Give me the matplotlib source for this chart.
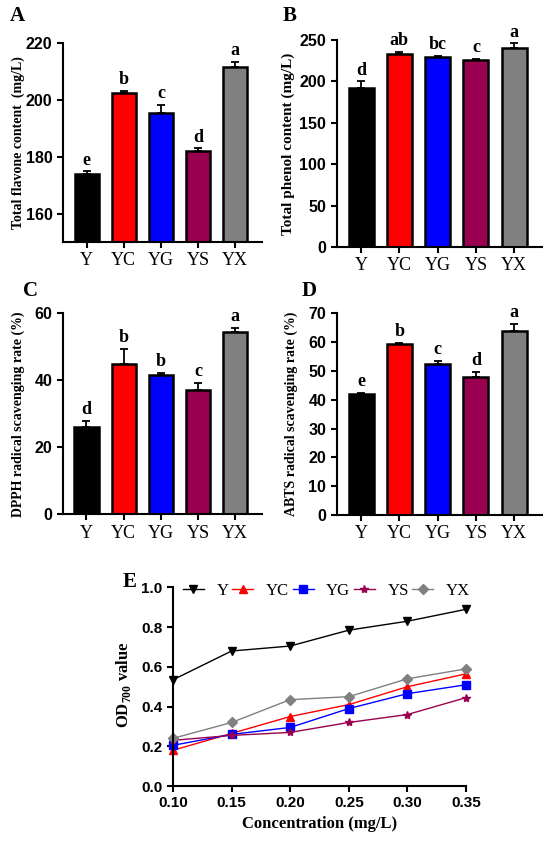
import numpy as np
import matplotlib
matplotlib.use('Agg')
import matplotlib.pyplot as plt

plt.rcParams['mathtext.fontset'] = 'custom'
plt.rcParams['mathtext.rm'] = 'Liberation Serif:bold'
plt.rcParams['mathtext.bf'] = 'Liberation Serif:bold'

groups = ['Y', 'YC', 'YG', 'YS', 'YX']
bar_colors = ['#000000', '#ff0000', '#0000ff', '#990050', '#808080']

# panel A - total flavone
flavone = [173.8, 202.2, 195.3, 181.9, 211.5]
flavone_err = [1.0, 1.0, 2.8, 1.0, 1.8]
flavone_sig = ['e', 'b', 'c', 'd', 'a']

# panel B - total phenol
phenol = [192.0, 233.5, 229.0, 225.5, 240.0]
phenol_err = [8.0, 2.0, 1.5, 2.0, 6.0]
phenol_sig = ['d', 'ab', 'bc', 'c', 'a']

# panel C - DPPH
dpph = [26.0, 45.0, 41.5, 37.0, 54.5]
dpph_err = [2.0, 4.5, 0.7, 2.3, 1.2]
dpph_sig = ['d', 'b', 'b', 'c', 'a']

# panel D - ABTS
abts = [42.0, 59.2, 52.3, 48.0, 64.0]
abts_err = [0.3, 0.6, 1.2, 1.6, 2.3]
abts_sig = ['e', 'b', 'c', 'd', 'a']

# panel E - reducing power
conc = [0.10, 0.15, 0.20, 0.25, 0.30, 0.35]
od_Y = [0.535, 0.68, 0.705, 0.785, 0.83, 0.89]
od_YC = [0.18, 0.265, 0.35, 0.41, 0.50, 0.565]
od_YG = [0.205, 0.26, 0.295, 0.39, 0.465, 0.51]
od_YS = [0.23, 0.255, 0.27, 0.32, 0.36, 0.445]
od_YX = [0.24, 0.32, 0.435, 0.45, 0.54, 0.59]

serif = 'Liberation Serif'
sans = 'Liberation Sans'

fig = plt.figure(figsize=(5.5, 8.47), dpi=100)


def style_axes(ax):
    for s in ['top', 'right']:
        ax.spines[s].set_visible(False)
    for s in ['left', 'bottom']:
        ax.spines[s].set_linewidth(1.5)
    ax.tick_params(width=1.5, length=4, direction='out')


def bar_panel(rect, vals, errs, sig, ylim, yticks, ylabel, lab_size, lab_xy, letter, lpos):
    ax = fig.add_axes(rect)
    x = np.arange(len(groups))
    ax.bar(x, vals, width=0.65, color=bar_colors, edgecolor='black', linewidth=1.8, zorder=2)
    ax.errorbar(x, vals, yerr=[[0] * len(errs), errs], fmt='none', ecolor='black',
                elinewidth=1.3, capsize=3, capthick=1.3, zorder=1)
    for xi, v, e, s in zip(x, vals, errs, sig):
        ax.annotate(s, (xi, v + e), xytext=(0, 2), textcoords='offset points',
                    ha='center', va='bottom', fontsize=13, fontweight='bold', family=serif)
    ax.set_xlim(-0.64, 4.72)
    ax.set_ylim(*ylim)
    ax.set_yticks(yticks)
    ax.set_xticks(x)
    ax.set_xticklabels(groups, family=serif, fontsize=13)
    for t in ax.get_yticklabels():
        t.set_family(sans)
        t.set_fontweight('bold')
        t.set_fontsize(11.5)
    ax.set_ylabel(ylabel, family=serif, fontweight='bold', fontsize=lab_size)
    ax.yaxis.set_label_coords(*lab_xy)
    style_axes(ax)
    fig.text(lpos[0], lpos[1], letter, family=serif, fontweight='bold', fontsize=15,
             ha='left', va='top')
    return ax


bar_panel([0.1145, 0.7143, 0.3615, 0.2353], flavone, flavone_err, flavone_sig,
          (150, 220), [160, 180, 200, 220], 'Total flavone content  (mg/L)', 10,
          (-0.19, 0.5), 'A', (0.018, 0.993))
bar_panel([0.612, 0.7084, 0.373, 0.2444], phenol, phenol_err, phenol_sig,
          (0, 250), [0, 50, 100, 150, 200, 250], 'Total phenol content (mg/L)', 11,
          (-0.205, 0.5), 'B', (0.513, 0.993))
bar_panel([0.114, 0.3928, 0.362, 0.2372], dpph, dpph_err, dpph_sig,
          (0, 60), [0, 20, 40, 60], 'DPPH radical scavenging rate (%)', 10,
          (-0.19, 0.5), 'C', (0.042, 0.668))
bar_panel([0.612, 0.392, 0.373, 0.238], abts, abts_err, abts_sig,
          (0, 70), [0, 10, 20, 30, 40, 50, 60, 70], 'ABTS radical scavenging rate (%)', 10,
          (-0.19, 0.5), 'D', (0.548, 0.668))

# panel E
ax = fig.add_axes([0.3145, 0.072, 0.5327, 0.2344])
series = [
    ('Y', od_Y, '#000000', 'v', 6),
    ('YC', od_YC, '#ff0000', '^', 6),
    ('YG', od_YG, '#0000ff', 's', 6),
    ('YS', od_YS, '#990050', '*', 6),
    ('YX', od_YX, '#808080', 'D', 5),
]
for name, ys, c, m, ms in series:
    ax.plot(conc, ys, color=c, marker=m, markersize=ms, linewidth=1.0, label=name, clip_on=False)
ax.set_xlim(0.10, 0.35)
ax.set_ylim(0, 1.0)
ax.set_xticks(conc)
ax.set_xticklabels(['%.2f' % c for c in conc])
ax.set_yticks([0, 0.2, 0.4, 0.6, 0.8, 1.0])
ax.set_yticklabels(['0.0', '0.2', '0.4', '0.6', '0.8', '1.0'])
for t in ax.get_xticklabels() + ax.get_yticklabels():
    t.set_family(sans)
    t.set_fontweight('bold')
    t.set_fontsize(11)
ax.set_xlabel('Concentration (mg/L)', family=serif, fontweight='bold', fontsize=12)
ax.set_ylabel(r'OD$_{700}$ value', family=serif, fontweight='bold', fontsize=12)
ax.yaxis.set_label_coords(-0.135, 0.51)
style_axes(ax)
leg = ax.legend(loc='center left', ncol=5, frameon=False, bbox_to_anchor=(0.034, 0.984),
                borderpad=0, borderaxespad=0,
                handlelength=1.26, handletextpad=0.75, columnspacing=0.22,
                prop={'family': serif, 'size': 12})
fig.text(0.223, 0.325, 'E', family=serif, fontweight='bold', fontsize=15, ha='left', va='top')

fig.savefig('out.png', dpi=100)
